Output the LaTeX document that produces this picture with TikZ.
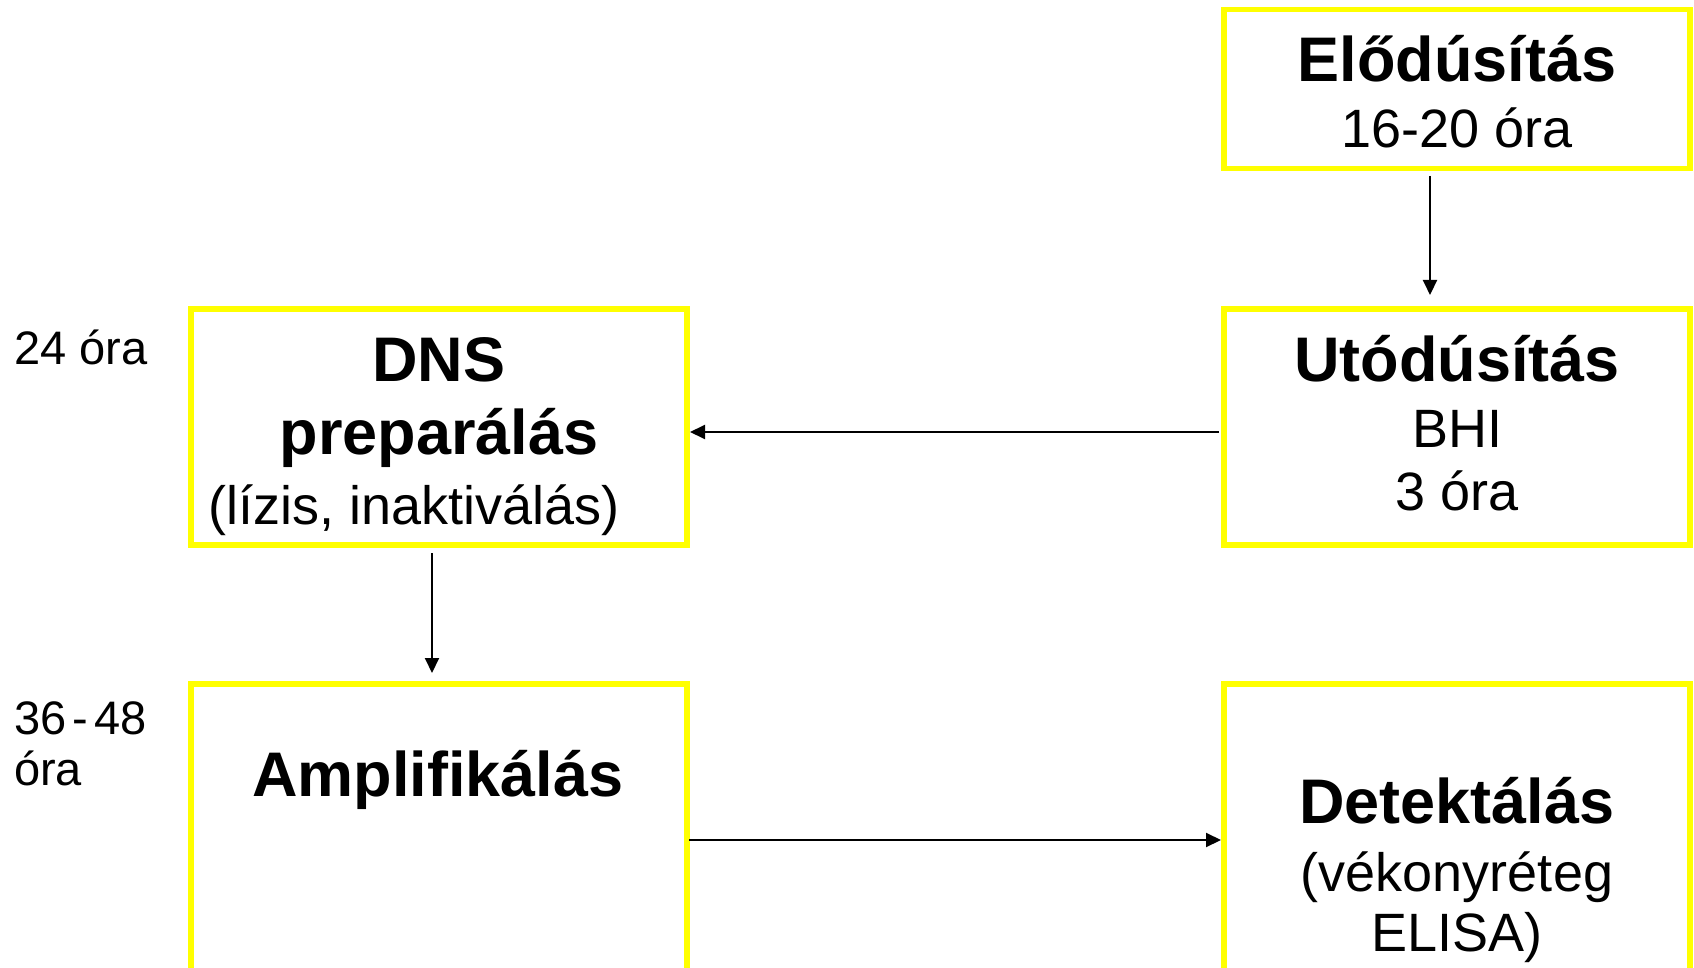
\documentclass[tikz,border=0pt]{standalone}
\usepackage{fontspec}
\setmainfont{Liberation Sans}
\usetikzlibrary{arrows.meta}
\definecolor{boxyellow}{RGB}{255,255,0}
\tikzset{
  stage/.style={draw=boxyellow, line width=5.5pt, inner sep=0pt, outer sep=0pt, rectangle},
  ttl/.style={anchor=base, inner sep=0pt, font=\fontsize{63}{70}\selectfont\bfseries},
  sub/.style={anchor=base, inner sep=0pt, font=\fontsize{54}{62}\selectfont},
  side/.style={anchor=base west, inner sep=0pt, font=\fontsize{47}{52}\selectfont},
  arr/.style={line width=2pt, -{Triangle[length=15pt,width=14pt]}}
}
\begin{document}
\begin{tikzpicture}[x=1pt,y=-1pt]
\useasboundingbox (0,0) rectangle (1694,968);
\clip (0,0) rectangle (1694,968);
\fill[white] (0,0) rectangle (1694,968);
% boxes
\node[stage, minimum width=466pt, minimum height=159pt] (elo) at (1457,89) {};
\node[stage, minimum width=466pt, minimum height=236pt] (uto) at (1457,427) {};
\node[stage, minimum width=496pt, minimum height=236pt] (dns) at (439,427) {};
\node[stage, minimum width=496pt, minimum height=516pt] (amp) at (439,942) {};
\node[stage, minimum width=466pt, minimum height=516pt] (det) at (1457,942) {};
% texts
\node[ttl] (t1) at (1457,82) {Elődúsítás};
\node[sub] (t2) at (1457,148) {16-20 óra};
\node[ttl] (t3) at (1457,381) {Utódúsítás};
\node[sub] (t4) at (1457,447) {BHI};
\node[sub] (t5) at (1457,510) {3 óra};
\node[ttl] (t6) at (439,381) {DNS};
\node[ttl] (t7) at (439,454) {preparálás};
\node[sub] (t8) at (414,524) {(lízis, inaktiválás)};
\node[ttl] (t9) at (438,796) {Amplifikálás};
\node[ttl] (t10) at (1457,823) {Detektálás};
\node[sub] (t11) at (1457,891) {(vékonyréteg};
\node[sub] (t12) at (1457,951) {ELISA)};
\node[side] (s1) at (14,364) {24 óra};
\node[side] (s2) at (14,734) {\spaceskip=6pt 36 - 48};
\node[side] (s3) at (14,785) {óra};
% connectors
\draw[arr] ([xshift=-27pt,yshift=-7.5pt]elo.south) -- ([xshift=-27pt,yshift=14pt]uto.north);
\draw[arr] ([xshift=-5pt,yshift=-5pt]uto.west) -- ([xshift=3pt,yshift=-5pt]dns.east);
\draw[arr] ([xshift=-7pt,yshift=-8pt]dns.south) -- ([xshift=-7pt,yshift=11pt]amp.north);
\draw[arr] ([xshift=2pt,yshift=102pt]amp.east) -- ([xshift=-3pt,yshift=102pt]det.west);
\end{tikzpicture}
\end{document}
